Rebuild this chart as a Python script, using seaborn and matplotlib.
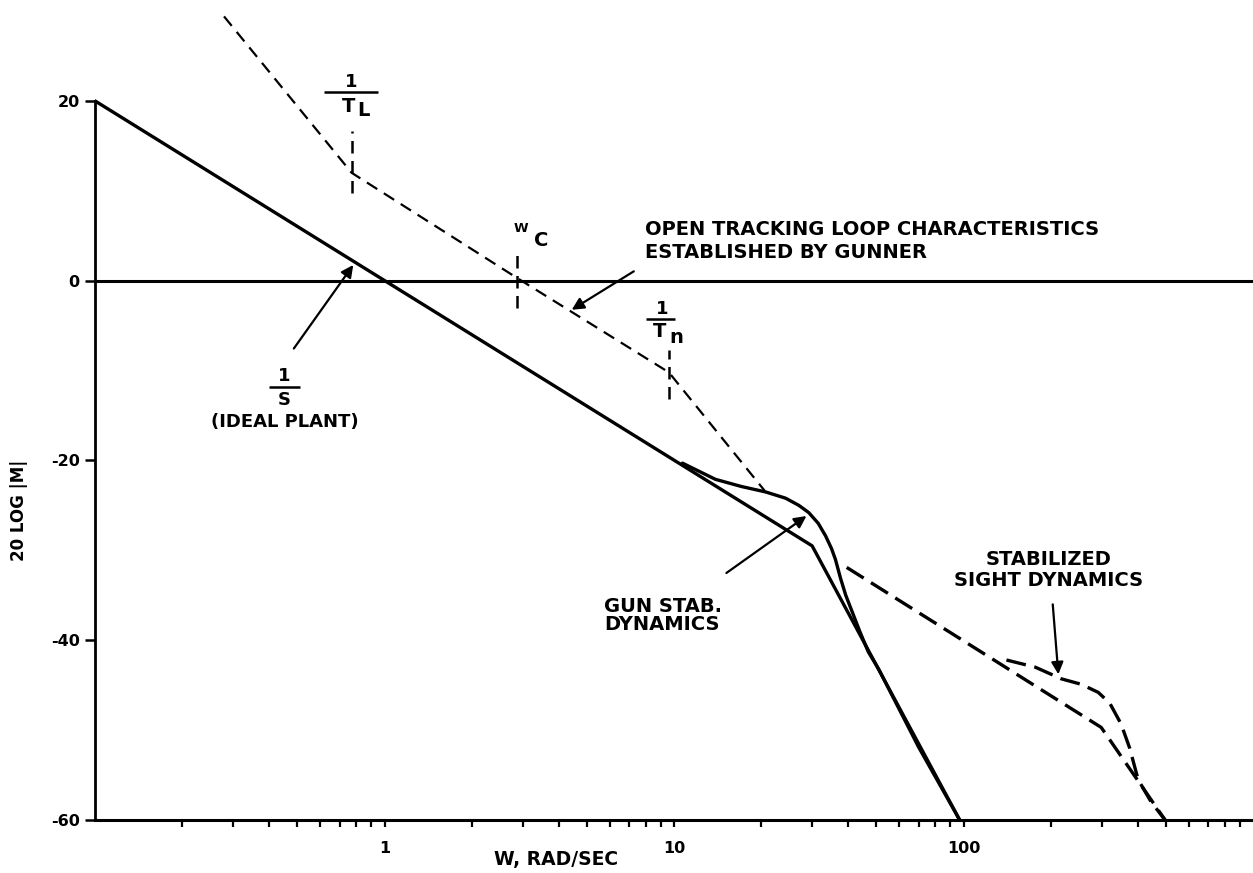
import numpy as np
import pandas as pd
import seaborn as sns
import matplotlib.pyplot as plt
from matplotlib.ticker import LogLocator, NullFormatter

# ideal plant 1/s asymptote with gun stab roll-off
plant_w = [0.1, 30, 97]
plant_db = [20, -29.5, -60]

# gun stab dynamics (solid curve)
gun_w = [10.7, 13.9, 17.1, 20.7, 24.3, 27.0, 29.2, 31.5, 33.4, 35.0, 36.1, 37.6, 39.2, 41.1, 43.8, 46.9, 50.9, 70, 97]
gun_db = [-20.3, -22.1, -22.9, -23.5, -24.2, -25.0, -25.8, -27.0, -28.4, -29.8, -31.0, -33.1, -35.0, -36.7, -39.0, -41.3, -43.2, -51.9, -60]

# open tracking loop established by gunner (short dashes)
loop_w = [0.279, 0.77, 2.87, 9.6, 20.6]
loop_db = [29.4, 12.0, 0.3, -10.2, -23.4]

# stabilized sight asymptote and curve (long dashes)
sight_asym_w = [39.5, 299, 497]
sight_asym_db = [-31.9, -49.7, -60]
sight_w = [140.7, 177, 218, 255, 292, 320, 350, 375, 401, 445, 497]
sight_db = [-42.2, -43.0, -44.3, -44.9, -45.8, -47.0, -49.3, -52.0, -55.5, -58.0, -60.0]

# break frequency markers: 1/T_L, W_C, 1/T_n
break_w = [0.77, 2.87, 9.6]
break_lo = [9.8, -3.0, -13.2]
break_hi = [16.6, 2.9, -7.7]

y_ticks = [-60, -40, -20, 0, 20]
y_labels = ['-60', '-40', '-20', '0', '20']
x_ticks = [1, 10, 100]
x_labels = ['1', '10', '100']

sns.set_style('ticks')
plt.rcParams['font.family'] = ['DejaVu Sans']
plt.rcParams['axes.unicode_minus'] = False
plt.rcParams['text.color'] = 'black'
plt.rcParams['axes.labelcolor'] = 'black'
plt.rcParams['xtick.color'] = 'black'
plt.rcParams['ytick.color'] = 'black'
plt.rcParams['axes.edgecolor'] = 'black'

fig = plt.figure(figsize=(12.53, 8.73), dpi=100)
ax = fig.add_axes([95 / 1253, 53 / 873, 1158 / 1253, 809 / 873])

ax.axhline(0, color='black', lw=2.2, zorder=1)
sns.lineplot(x=plant_w, y=plant_db, ax=ax, color='black', lw=2.4)
sns.lineplot(x=gun_w, y=gun_db, ax=ax, color='black', lw=2.4)
sns.lineplot(x=loop_w, y=loop_db, ax=ax, color='black', lw=1.6,
             linestyle=(0, (5.5, 3.5)))
sns.lineplot(x=sight_asym_w, y=sight_asym_db, ax=ax, color='black', lw=2.4,
             linestyle=(0, (6, 2.6)))
sns.lineplot(x=sight_w, y=sight_db, ax=ax, color='black', lw=2.4,
             linestyle=(0, (6, 2.6)))
ax.vlines(break_w, break_lo, break_hi, color='black', lw=1.8,
          linestyles=(0, (5, 3)))

ax.set_xscale('log')
ax.set_xlim(0.1, 1000)
ax.set_ylim(-60, 30)

ax.spines['top'].set_visible(False)
ax.spines['right'].set_visible(False)
ax.spines['left'].set_bounds(-60, 20)
ax.spines['left'].set_linewidth(2.0)
ax.spines['bottom'].set_linewidth(2.2)

ax.set_yticks(y_ticks)
ax.set_yticklabels(y_labels, fontweight='bold', fontsize=11.5)
ax.set_xticks(x_ticks)
ax.set_xticklabels(x_labels, fontweight='bold', fontsize=11.5)
ax.xaxis.set_minor_locator(LogLocator(base=10, subs=np.arange(2, 10)))
ax.xaxis.set_minor_formatter(NullFormatter())
ax.tick_params(axis='y', direction='out', length=7, width=1.8, pad=4)
ax.tick_params(axis='x', which='both', direction='out', length=5, width=1.6, pad=10)

ax.set_xlabel('W, RAD/SEC', fontweight='bold', fontsize=13.5)
ax.xaxis.set_label_coords(0.398, -0.037)
ax.set_ylabel('20 LOG |M|', fontweight='bold', fontsize=12)
ax.yaxis.set_label_coords(-0.058, 0.383)

txt = dict(color='black', fontweight='bold', ha='center', va='center')
big = 14

# 1/T_L
ax.text(0.77, 22.1, '1', fontsize=13, **txt)
ax.hlines(21.0, 0.62, 0.95, color='black', lw=1.8)
ax.text(0.75, 19.4, 'T', fontsize=14, **txt)
ax.text(0.845, 18.9, 'L', fontsize=14, **txt)

# W_C
ax.text(2.97, 5.8, 'W', fontsize=9.5, **txt)
ax.text(3.48, 4.5, 'C', fontsize=14, **txt)

# 1/T_n
ax.text(9.07, -3.2, '1', fontsize=13, **txt)
ax.hlines(-4.3, 8.0, 10.1, color='black', lw=1.8)
ax.text(8.88, -5.7, 'T', fontsize=14, **txt)
ax.text(10.15, -6.3, 'n', fontsize=14, **txt)

# 1/S ideal plant
ax.text(0.452, -10.6, '1', fontsize=13, **txt)
ax.hlines(-11.8, 0.40, 0.51, color='black', lw=1.8)
ax.text(0.452, -13.3, 'S', fontsize=13, **txt)
ax.text(0.452, -15.7, '(IDEAL PLANT)', fontsize=13, **txt)

ax.text(7.94, 5.7, 'OPEN TRACKING LOOP CHARACTERISTICS', fontsize=big,
        color='black', fontweight='bold', ha='left', va='center')
ax.text(7.94, 3.1, 'ESTABLISHED BY GUNNER', fontsize=big,
        color='black', fontweight='bold', ha='left', va='center')
ax.text(5.73, -36.2, 'GUN STAB.', fontsize=big,
        color='black', fontweight='bold', ha='left', va='center')
ax.text(5.73, -38.2, 'DYNAMICS', fontsize=big,
        color='black', fontweight='bold', ha='left', va='center')
ax.text(196, -31.0, 'STABILIZED', fontsize=big, **txt)
ax.text(196, -33.4, 'SIGHT DYNAMICS', fontsize=big, **txt)

arrow = dict(arrowstyle='-|>', color='black', lw=1.6, mutation_scale=18)
ax.annotate('', xy=(0.79, 2.0), xytext=(0.48, -7.8), arrowprops=arrow)
ax.annotate('', xy=(4.35, -3.4), xytext=(7.4, 1.2), arrowprops=arrow)
ax.annotate('', xy=(29.2, -26.0), xytext=(14.9, -32.7), arrowprops=arrow)
ax.annotate('', xy=(213, -44.1), xytext=(203, -35.7), arrowprops=arrow)

fig.savefig('out.png', dpi=100)
